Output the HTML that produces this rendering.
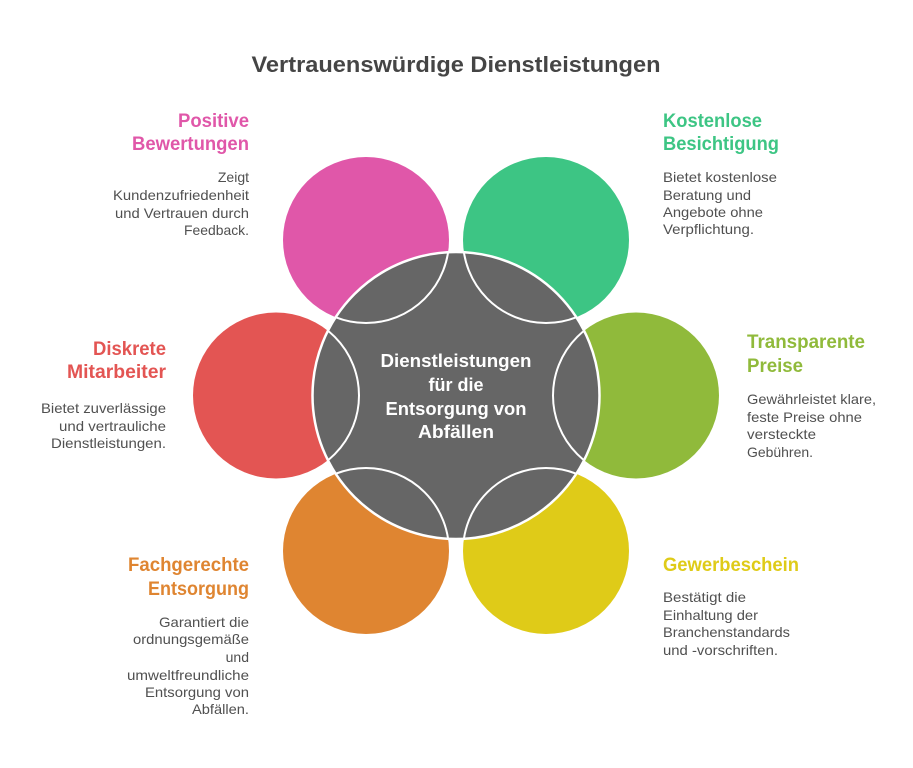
<!DOCTYPE html>
<html>
<head>
<meta charset="utf-8">
<style>
  html,body{margin:0;padding:0;background:#fff;}
  svg{display:block;}
  text{font-family:"Liberation Sans", Arial, sans-serif;}
  .h{font-weight:bold;font-size:19px;}
  .d{font-size:14px;fill:#505050;}
  .c{font-weight:bold;font-size:18px;fill:#fff;}
</style>
</head>
<body>
<svg width="913" height="768" viewBox="0 0 913 768" xmlns="http://www.w3.org/2000/svg">
  <defs>
    <clipPath id="cc"><circle cx="456" cy="395.5" r="143.5"/></clipPath>
  </defs>

  <!-- Title -->
  <text x="456" y="72" text-anchor="middle" font-weight="bold" font-size="22" fill="#454545" textLength="409" lengthAdjust="spacingAndGlyphs">Vertrauenswürdige Dienstleistungen</text>

  <!-- Outer circles -->
  <circle cx="366" cy="240" r="83" fill="#E057A9"/>
  <circle cx="546" cy="240" r="83" fill="#3DC584"/>
  <circle cx="636" cy="395.5" r="83" fill="#90BA3B"/>
  <circle cx="546" cy="551" r="83" fill="#DFCB18"/>
  <circle cx="366" cy="551" r="83" fill="#DF8531"/>
  <circle cx="276" cy="395.5" r="83" fill="#E35553"/>

  <!-- Center circle -->
  <circle cx="456" cy="395.5" r="143.5" fill="#666666" stroke="#ffffff" stroke-width="2.5"/>

  <!-- Outer circle outlines inside center -->
  <g clip-path="url(#cc)" fill="none" stroke="#ffffff" stroke-width="2">
    <circle cx="366" cy="240" r="83"/>
    <circle cx="546" cy="240" r="83"/>
    <circle cx="636" cy="395.5" r="83"/>
    <circle cx="546" cy="551" r="83"/>
    <circle cx="366" cy="551" r="83"/>
    <circle cx="276" cy="395.5" r="83"/>
  </g>

  <!-- Center text -->
  <text class="c" x="456" y="367" text-anchor="middle" textLength="151" lengthAdjust="spacingAndGlyphs">Dienstleistungen</text>
  <text class="c" x="456" y="391" text-anchor="middle">für die</text>
  <text class="c" x="456" y="415" text-anchor="middle" textLength="141" lengthAdjust="spacingAndGlyphs">Entsorgung von</text>
  <text class="c" x="456" y="438" text-anchor="middle" textLength="76" lengthAdjust="spacingAndGlyphs">Abfällen</text>

  <!-- Pink block -->
  <text class="h" x="249" y="127" text-anchor="end" fill="#E057A9" textLength="71" lengthAdjust="spacingAndGlyphs">Positive</text>
  <text class="h" x="249" y="150" text-anchor="end" fill="#E057A9" textLength="117" lengthAdjust="spacingAndGlyphs">Bewertungen</text>
  <text class="d" x="249" y="182" text-anchor="end">Zeigt</text>
  <text class="d" x="249" y="200" text-anchor="end" textLength="136" lengthAdjust="spacingAndGlyphs">Kundenzufriedenheit</text>
  <text class="d" x="249" y="218" text-anchor="end" textLength="134" lengthAdjust="spacingAndGlyphs">und Vertrauen durch</text>
  <text class="d" x="249" y="235" text-anchor="end" textLength="65" lengthAdjust="spacingAndGlyphs">Feedback.</text>

  <!-- Green block -->
  <text class="h" x="663" y="127" fill="#3DC584" textLength="99" lengthAdjust="spacingAndGlyphs">Kostenlose</text>
  <text class="h" x="663" y="150" fill="#3DC584" textLength="116" lengthAdjust="spacingAndGlyphs">Besichtigung</text>
  <text class="d" x="663" y="182" textLength="114" lengthAdjust="spacingAndGlyphs">Bietet kostenlose</text>
  <text class="d" x="663" y="200" textLength="88" lengthAdjust="spacingAndGlyphs">Beratung und</text>
  <text class="d" x="663" y="217" textLength="100" lengthAdjust="spacingAndGlyphs">Angebote ohne</text>
  <text class="d" x="663" y="234" textLength="91" lengthAdjust="spacingAndGlyphs">Verpflichtung.</text>

  <!-- Red block -->
  <text class="h" x="166" y="355" text-anchor="end" fill="#E35553" textLength="73" lengthAdjust="spacingAndGlyphs">Diskrete</text>
  <text class="h" x="166" y="378" text-anchor="end" fill="#E35553" textLength="99" lengthAdjust="spacingAndGlyphs">Mitarbeiter</text>
  <text class="d" x="166" y="413" text-anchor="end" textLength="125" lengthAdjust="spacingAndGlyphs">Bietet zuverlässige</text>
  <text class="d" x="166" y="431" text-anchor="end" textLength="107" lengthAdjust="spacingAndGlyphs">und vertrauliche</text>
  <text class="d" x="166" y="448" text-anchor="end" textLength="115" lengthAdjust="spacingAndGlyphs">Dienstleistungen.</text>

  <!-- Olive block -->
  <text class="h" x="747" y="348" fill="#90BA3B" textLength="118" lengthAdjust="spacingAndGlyphs">Transparente</text>
  <text class="h" x="747" y="372" fill="#90BA3B" textLength="56" lengthAdjust="spacingAndGlyphs">Preise</text>
  <text class="d" x="747" y="404" textLength="129" lengthAdjust="spacingAndGlyphs">Gewährleistet klare,</text>
  <text class="d" x="747" y="422" textLength="115" lengthAdjust="spacingAndGlyphs">feste Preise ohne</text>
  <text class="d" x="747" y="439" textLength="69" lengthAdjust="spacingAndGlyphs">versteckte</text>
  <text class="d" x="747" y="457" textLength="66" lengthAdjust="spacingAndGlyphs">Gebühren.</text>

  <!-- Orange block -->
  <text class="h" x="249" y="571" text-anchor="end" fill="#DF8531" textLength="121" lengthAdjust="spacingAndGlyphs">Fachgerechte</text>
  <text class="h" x="249" y="595" text-anchor="end" fill="#DF8531" textLength="101" lengthAdjust="spacingAndGlyphs">Entsorgung</text>
  <text class="d" x="249" y="627" text-anchor="end" textLength="90" lengthAdjust="spacingAndGlyphs">Garantiert die</text>
  <text class="d" x="249" y="644" text-anchor="end" textLength="116" lengthAdjust="spacingAndGlyphs">ordnungsgemäße</text>
  <text class="d" x="249" y="662" text-anchor="end">und</text>
  <text class="d" x="249" y="680" text-anchor="end" textLength="122" lengthAdjust="spacingAndGlyphs">umweltfreundliche</text>
  <text class="d" x="249" y="697" text-anchor="end" textLength="104" lengthAdjust="spacingAndGlyphs">Entsorgung von</text>
  <text class="d" x="249" y="714" text-anchor="end" textLength="57" lengthAdjust="spacingAndGlyphs">Abfällen.</text>

  <!-- Yellow block -->
  <text class="h" x="663" y="571" fill="#DFCB18" textLength="136" lengthAdjust="spacingAndGlyphs">Gewerbeschein</text>
  <text class="d" x="663" y="602" textLength="83" lengthAdjust="spacingAndGlyphs">Bestätigt die</text>
  <text class="d" x="663" y="620" textLength="95" lengthAdjust="spacingAndGlyphs">Einhaltung der</text>
  <text class="d" x="663" y="637" textLength="127" lengthAdjust="spacingAndGlyphs">Branchenstandards</text>
  <text class="d" x="663" y="655" textLength="115" lengthAdjust="spacingAndGlyphs">und -vorschriften.</text>
</svg>
</body>
</html>
